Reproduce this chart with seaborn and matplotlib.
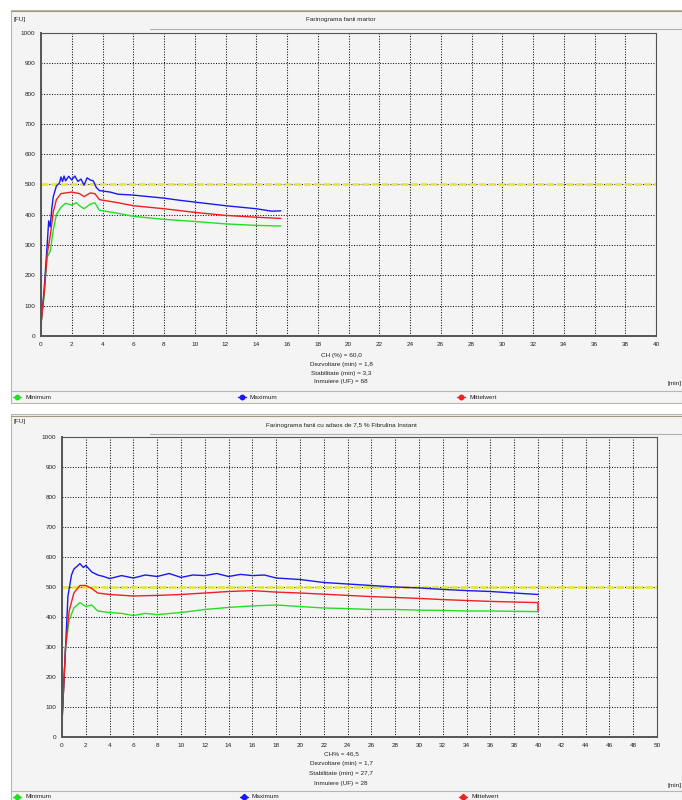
import numpy as np
import pandas as pd
import matplotlib
matplotlib.use("Agg")
import matplotlib.pyplot as plt
import seaborn as sns
from matplotlib.lines import Line2D
from matplotlib.patches import Rectangle

# --- date ---
series_names = ["Minimum", "Maximum", "Mittelwert"]
series_colors = {"Minimum": "#22e022", "Maximum": "#1a1aee", "Mittelwert": "#ee2020"}

# Farinograma fanii martor
t1_max = [0, 0.2, 0.4, 0.5, 0.6, 0.7, 0.8, 1.0, 1.2, 1.3, 1.4, 1.5, 1.6, 1.8, 2.0, 2.2, 2.4,
          2.6, 2.8, 3.0, 3.2, 3.4, 3.6, 3.8, 4.5, 5, 6, 7, 8, 9, 10, 11, 12, 13, 14, 15, 15.6]
v1_max = [40, 150, 300, 380, 360, 420, 460, 495, 505, 525, 510, 528, 512, 527, 515, 528, 510,
          518, 498, 522, 515, 512, 490, 480, 475, 468, 465, 460, 455, 448, 442, 436, 430, 425, 420, 412, 413]
t1_mid = [0, 0.2, 0.4, 0.6, 0.8, 1.0, 1.3, 2.0, 2.5, 2.8, 3.2, 3.5, 3.8, 5, 6, 8, 10, 12, 14, 15.6]
v1_mid = [40, 140, 270, 330, 410, 450, 470, 475, 470, 460, 472, 470, 450, 440, 430, 420, 408, 398, 392, 388]
t1_min = [0, 0.2, 0.4, 0.6, 0.8, 1.0, 1.3, 1.6, 2.0, 2.3, 2.5, 2.8, 3.2, 3.5, 3.8, 5, 6, 8, 10, 12, 14, 15.6]
v1_min = [40, 130, 260, 280, 350, 400, 425, 438, 432, 440, 430, 420, 435, 440, 415, 405, 395, 385, 378, 370, 365, 363]

# Farinograma fanii cu adaos de 7,5 % Fibrulina Instant
t2_max = [0, 0.3, 0.5, 0.8, 1.0, 1.3, 1.5, 1.8, 2.0, 2.5, 3.0, 3.5, 4, 5, 6, 7, 8, 9, 10, 11, 12, 13, 14,
          15, 16, 17, 18, 20, 22, 24, 26, 28, 30, 32, 34, 36, 38, 40]
v2_max = [50, 300, 470, 540, 560, 570, 578, 565, 572, 550, 540, 535, 528, 538, 530, 540, 535, 545, 532,
          540, 538, 545, 535, 542, 538, 540, 530, 525, 515, 510, 505, 500, 497, 492, 488, 485, 480, 475]
t2_mid = [0, 0.3, 0.6, 1.0, 1.5, 2.0, 2.5, 3.0, 4, 6, 8, 10, 12, 14, 16, 18, 20, 22, 24, 26, 28, 30,
          32, 34, 36, 38, 40, 40]
v2_mid = [50, 300, 420, 480, 505, 505, 495, 480, 475, 470, 472, 475, 480, 485, 488, 483, 480, 476, 472,
          468, 465, 462, 458, 455, 452, 450, 448, 420]
t2_min = [0, 0.3, 0.6, 1.0, 1.5, 2.0, 2.5, 3.0, 4, 5, 6, 7, 8, 10, 12, 14, 16, 18, 20, 22, 24, 26, 28,
          30, 32, 34, 36, 38, 40]
v2_min = [50, 300, 390, 430, 448, 435, 440, 420, 415, 412, 405, 412, 408, 415, 425, 432, 437, 440, 435,
          430, 428, 425, 425, 423, 422, 420, 420, 419, 418]

titles = ["Farinograma fanii martor", "Farinograma fanii cu adaos de 7,5 % Fibrulina Instant"]
stats = [["CH (%) = 60,0", "Dezvoltare (min) = 1,8", "Stabilitate (min) = 3,3", "Inmuiere (UF) = 68"],
         ["CH% = 46,5", "Dezvoltare (min) = 1,7", "Stabilitate (min) = 27,7", "Inmuiere (UF) = 28"]]
xmax = [40, 50]

W, H = 682, 800
fig = plt.figure(figsize=(W / 100, H / 100), dpi=100, facecolor="white")
sns.set_style("white")
plt.rcParams["font.family"] = ["Liberation Sans", "DejaVu Sans"]


def fx(x):
    return x / W


def fy(y):
    return 1 - y / H


def ftext(x, y, s, **kw):
    fig.text(fx(x), fy(y), s, va="center", fontsize=4.6, color="#222222", **kw)


def fline(x0, x1, y0, y1, **kw):
    fig.add_artist(Line2D([fx(x0), fx(x1)], [fy(y0), fy(y1)], transform=fig.transFigure, **kw))


def make_df(t_min, v_min, t_max, v_max, t_mid, v_mid):
    parts = []
    for name, t, v in [("Minimum", t_min, v_min), ("Maximum", t_max, v_max), ("Mittelwert", t_mid, v_mid)]:
        parts.append(pd.DataFrame({"t": t, "FU": v, "serie": name}))
    return pd.concat(parts, ignore_index=True)


data = [make_df(t1_min, v1_min, t1_max, v1_max, t1_mid, v1_mid),
        make_df(t2_min, v2_min, t2_max, v2_max, t2_mid, v2_mid)]

# pozitii panouri (pixeli)
panels = [dict(top=10, bottom=403, title_y=19, tb_top=11, tb_bot=29, fu_y=19,
               ax=(41, 656, 33, 336), stat_y=[355, 364, 373, 382], min_y=383, leg_line=391, leg_y=397,
               marker="o", leg_x=[17, 242, 461]),
          dict(top=414, bottom=803, title_y=425, tb_top=416, tb_bot=434, fu_y=421,
               ax=(62, 657, 437, 737), stat_y=[754, 764, 774, 784], min_y=786, leg_line=791, leg_y=797,
               marker="D", leg_x=[17, 244, 463])]

for i, p in enumerate(panels):
    # fundal panou
    fig.add_artist(Rectangle((fx(11), fy(p["bottom"])), fx(W - 11), (p["bottom"] - p["top"]) / H,
                             transform=fig.transFigure, facecolor="#f4f4f4", edgecolor="#b8b8a8",
                             lw=0.8, zorder=-5))
    fline(11, W, p["tb_top"], p["tb_top"], color="#a09880", lw=0.8, zorder=-4)
    fline(150, W, p["tb_bot"], p["tb_bot"], color="#b0b0b0", lw=0.8, zorder=-4)
    ftext(341, p["title_y"], titles[i], ha="center")
    ftext(13, p["fu_y"], "[FU]")

    x0, x1, y0, y1 = p["ax"]
    ax = fig.add_axes([fx(x0), fy(y1), (x1 - x0) / W, (y1 - y0) / H])
    ax.set_facecolor("#f4f4f4")
    sns.lineplot(data=data[i], x="t", y="FU", hue="serie", hue_order=series_names,
                 estimator=None, sort=False, palette=series_colors, lw=1.0, ax=ax, legend=False)
    ax.axhline(500, color="#e6e640", lw=2.0, ls=(0, (2.5, 1)), zorder=1.5)
    ax.set_xlim(0, xmax[i])
    ax.set_ylim(0, 1000)
    ax.set_xticks(np.arange(0, xmax[i] + 1, 2))
    ax.set_yticks(np.arange(0, 1001, 100))
    ax.grid(True, color="#111111", ls=(0, (1, 1.5)), lw=0.75)
    ax.set_axisbelow(True)
    ax.tick_params(labelsize=4.6, length=2, width=0.6, colors="#222222", pad=2)
    ax.set_xlabel("")
    ax.set_ylabel("")
    for s in ax.spines.values():
        s.set_color("#555555")
        s.set_linewidth(0.8)
    ax.spines["left"].set_linewidth(1.4)
    ax.spines["bottom"].set_linewidth(1.4)

    for k, s in enumerate(stats[i]):
        ftext(341, p["stat_y"][k], s, ha="center")
    ftext(668, p["min_y"], "[min]")

    fline(11, W, p["leg_line"], p["leg_line"], color="#b8b8a8", lw=0.8)
    for k, name in enumerate(series_names):
        lx = p["leg_x"][k]
        fig.add_artist(Line2D([fx(lx - 4), fx(lx), fx(lx + 4)], [fy(p["leg_y"])] * 3,
                              transform=fig.transFigure, color=series_colors[name], lw=1.0,
                              marker=p["marker"], markersize=3.2, markevery=[1]))
        ftext(lx + 8, p["leg_y"], name)

fig.savefig("out.png", dpi=100, facecolor="white")
